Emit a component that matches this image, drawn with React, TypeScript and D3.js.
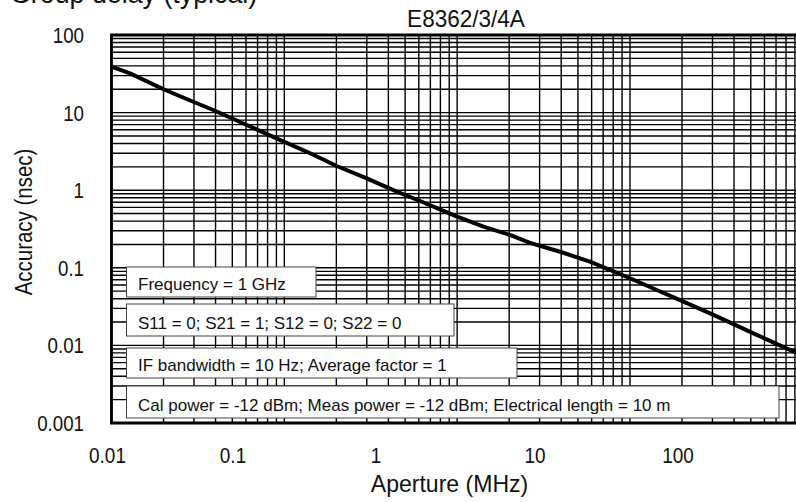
import React from 'react';
import * as d3 from 'd3';

// ---- data ----
const chartTitle = 'Group delay (typical)';
const modelLabel = 'E8362/3/4A';
const xAxisTitle = 'Aperture (MHz)';
const yAxisTitle = 'Accuracy (nsec)';
const xTickValues = [0.01, 0.1, 1, 10, 100];
const xTickLabels = ['0.01', '0.1', '1', '10', '100'];
const yTickValues = [100, 10, 1, 0.1, 0.01, 0.001];
const yTickLabels = ['100', '10', '1', '0.1', '0.01', '0.001'];
const apertureMHz = [0.01, 0.0128, 0.02, 0.0297, 0.0388, 0.1, 0.141, 0.201, 0.3, 0.447, 0.61, 1.0, 1.42, 2.02, 2.64, 3.94, 5.87, 10, 14.3, 20.4, 30.4, 51.8, 91.4];
const accuracyNs = [39.1, 32, 20, 13.8, 10.8, 4.2, 2.99, 2.05, 1.42, 0.957, 0.726, 0.456, 0.339, 0.265, 0.21, 0.161, 0.12, 0.0733, 0.0518, 0.0366, 0.0247, 0.0143, 0.00805];
const conditionLines = [
  'Frequency = 1 GHz',
  'S11 = 0; S21 = 1; S12 = 0; S22 = 0',
  'IF bandwidth = 10 Hz; Average factor = 1',
  'Cal power = -12 dBm; Meas power = -12 dBm; Electrical length = 10 m',
];

// ---- layout ----
const W = 796;
const H = 502;
const M = { left: 111.5, top: 35, right: 802.8, bottom: 423 };
const FONT = "'Liberation Sans', Arial, sans-serif";
// the reference prints its x labels offset from the decade gridlines
const xLabelPos = [107.5, 233, 376, 535, 678];
const boxLeft = 126.5;
const boxTops = [267, 304, 348, 386];
const boxHeights = [30, 32, 30, 32];
const boxRights = [316, 454, 517, 779];

function SText(props: { x: number; y: number; sx: number; size: number; anchor?: string; rotate?: number; children: React.ReactNode }) {
  const { x, y, sx, size, anchor, rotate, children } = props;
  return (
    <text
      transform={`translate(${x},${y})${rotate ? ` rotate(${rotate})` : ''} scale(${sx},1)`}
      fontSize={size}
      textAnchor={anchor || 'start'}
      fill="#111"
    >
      {children}
    </text>
  );
}

export default function App() {
  const x = d3.scaleLog().domain([0.01, 100]).range([M.left, M.right]);
  const y = d3.scaleLog().domain([0.001, 100]).range([M.bottom, M.top]);
  const xLab = d3.scaleLog().domain(xTickValues).range(xLabelPos);

  const vGrid: number[] = [];
  for (let k = -2; k <= 1; k++) for (let m = 1; m <= 9; m++) vGrid.push(m * Math.pow(10, k));
  vGrid.push(100);
  const hGrid: number[] = [];
  for (let k = -3; k <= 1; k++) for (let m = 1; m <= 9; m++) hGrid.push(m * Math.pow(10, k));
  hGrid.push(100);

  const pts = apertureMHz.map((a, i) => [a, accuracyNs[i]] as [number, number]);
  const line = d3.line<[number, number]>().x(d => x(d[0])).y(d => y(d[1]));

  return (
    <svg width={W} height={H} style={{ position: 'absolute', left: 0, top: 0, background: '#fff' }} fontFamily={FONT}>
      <rect x={0} y={0} width={W} height={H} fill="#fff" />
      <SText x={10} y={3} sx={1} size={26.8}>{chartTitle}</SText>
      <SText x={466} y={27} sx={0.98} size={23} anchor="middle">{modelLabel}</SText>
      <g stroke="#000" strokeWidth={1.4}>
        {vGrid.map((v, i) => (
          <line key={'v' + i} x1={x(v)} x2={x(v)} y1={M.top} y2={M.bottom} />
        ))}
        {hGrid.map((v, i) => (
          <line key={'h' + i} x1={M.left} x2={M.right} y1={y(v)} y2={y(v)} />
        ))}
      </g>
      <path d={line(pts) || ''} fill="none" stroke="#000" strokeWidth={4} strokeLinejoin="round" />
      <path d={`M${M.right + 10},${M.top}H${M.left}V${M.bottom}H${M.right + 10}`} fill="none" stroke="#000" strokeWidth={2.8} />
      {conditionLines.map((t, i) => (
        <g key={'b' + i}>
          <rect x={boxLeft} y={boxTops[i]} width={boxRights[i] - boxLeft} height={boxHeights[i]} fill="#fff" stroke="#444" strokeWidth={1} />
          <SText x={boxLeft + 11.5} y={boxTops[i] + boxHeights[i] - 7} sx={1} size={17}>{t}</SText>
        </g>
      ))}
      {yTickValues.map((v, i) => (
        <SText key={'yt' + i} x={84} y={y(v) + 8} sx={0.85} size={22} anchor="end">{yTickLabels[i]}</SText>
      ))}
      {xTickValues.map((v, i) => (
        <SText key={'xt' + i} x={xLab(v)} y={463} sx={0.86} size={22} anchor="middle">{xTickLabels[i]}</SText>
      ))}
      <SText x={449.5} y={492} sx={0.96} size={24} anchor="middle">{xAxisTitle}</SText>
      <SText x={31.5} y={222} sx={0.89} size={23} anchor="middle" rotate={-90}>{yAxisTitle}</SText>
    </svg>
  );
}
